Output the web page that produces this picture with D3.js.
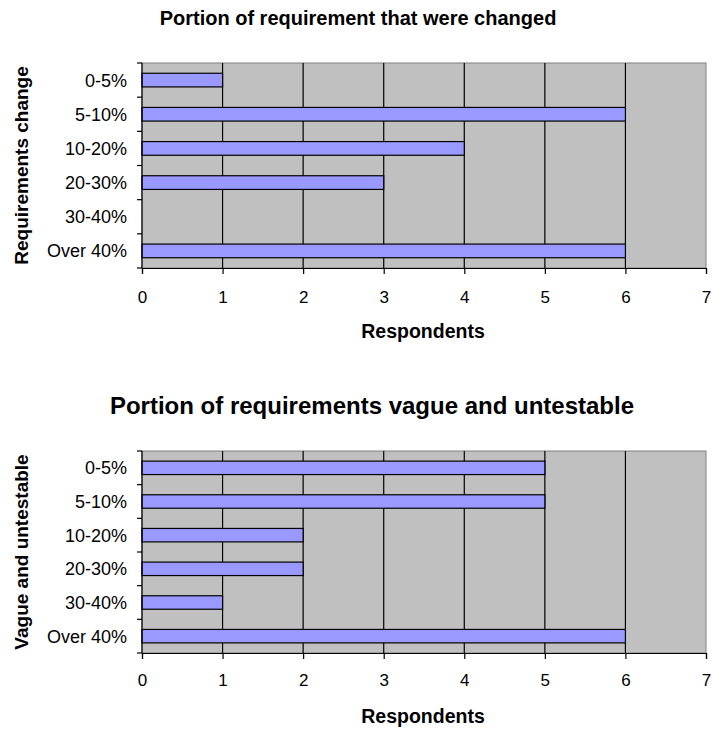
<!DOCTYPE html>
<html>
<head>
<meta charset="utf-8">
<script src="https://cdn.jsdelivr.net/npm/d3@7"></script>
<style>
  body { margin: 0; background: #fff; }
  svg { display: block; font-family: "Liberation Sans", Arial, sans-serif; }
</style>
</head>
<body>
<svg id="chart" width="713" height="731"></svg>
<script>
// Survey responses: number of respondents per requirement-share bucket
const categories = ["0-5%", "5-10%", "10-20%", "20-30%", "30-40%", "Over 40%"];
const changedValues = [1, 6, 4, 3, 0, 6];
const vagueValues = [5, 5, 2, 2, 1, 6];
const xTicks = [0, 1, 2, 3, 4, 5, 6, 7];

const svg = d3.select("#chart");
const FONT = "Liberation Sans, Arial, sans-serif";

function drawPanel(cfg) {
  const { values, top, bottom, title, titleY, titleSize, titleX, yTitle, xTitleY, tickLabelY } = cfg;
  const left = 142, right = 706;
  const x = d3.scaleLinear().domain([0, 7]).range([left, right]);
  const y = d3.scaleBand().domain(categories).range([top, bottom]).paddingInner(0.6).paddingOuter(0.3);
  const band = d3.scaleBand().domain(categories).range([top, bottom]);
  const g = svg.append("g");

  // plot area
  g.append("rect").attr("x", left).attr("y", top).attr("width", right - left).attr("height", bottom - top)
    .attr("fill", "#c0c0c0").attr("stroke", "#808080").attr("stroke-width", 1);

  // vertical gridlines
  g.selectAll("line.grid").data(xTicks.slice(1, -1)).join("line")
    .attr("x1", d => x(d)).attr("x2", d => x(d)).attr("y1", top).attr("y2", bottom)
    .attr("stroke", "#000").attr("stroke-width", 1.2);

  // bars
  g.selectAll("rect.bar").data(values.map((v, i) => ({ c: categories[i], v })).filter(d => d.v > 0)).join("rect")
    .attr("x", x(0)).attr("y", d => y(d.c)).attr("width", d => x(d.v) - x(0)).attr("height", y.bandwidth())
    .attr("fill", "#9999ff").attr("stroke", "#000").attr("stroke-width", 1.2);

  // x axis
  const xAxis = g.append("g").attr("transform", `translate(0,${bottom})`)
    .call(d3.axisBottom(x).tickValues(xTicks).tickSize(6).tickFormat(d3.format("d")));
  xAxis.select(".domain").attr("stroke", "#000").attr("stroke-width", 1.2);
  xAxis.selectAll(".tick line").attr("stroke", "#000").attr("stroke-width", 1.2);
  xAxis.selectAll(".tick text")
    .attr("y", tickLabelY - bottom).attr("dy", null)
    .attr("font-size", 17).attr("fill", "#000").attr("font-family", FONT);

  // y axis: category ticks on band boundaries
  g.append("line").attr("x1", left).attr("x2", left).attr("y1", top).attr("y2", bottom)
    .attr("stroke", "#000").attr("stroke-width", 1.2);
  const bounds = categories.map(c => band(c)).concat([bottom]);
  g.selectAll("line.ytick").data(bounds).join("line")
    .attr("x1", left - 5).attr("x2", left).attr("y1", d => d).attr("y2", d => d)
    .attr("stroke", "#000").attr("stroke-width", 1.2);
  g.selectAll("text.ylab").data(categories).join("text")
    .attr("x", 127).attr("y", d => band(d) + band.bandwidth() / 2).attr("dy", "0.36em")
    .attr("text-anchor", "end").attr("font-size", 18).attr("fill", "#000").text(d => d);

  // titles
  g.append("text").attr("x", titleX).attr("y", titleY).attr("text-anchor", "middle")
    .attr("font-size", titleSize).attr("font-weight", "bold").attr("fill", "#000").text(title);
  g.append("text").attr("x", 423).attr("y", xTitleY).attr("text-anchor", "middle")
    .attr("font-size", 19.5).attr("font-weight", "bold").attr("fill", "#000").text("Respondents");
  g.append("text").attr("transform", `translate(28,${(top + bottom) / 2}) rotate(-90)`)
    .attr("text-anchor", "middle").attr("font-size", 19).attr("font-weight", "bold").attr("fill", "#000").text(yTitle);
}

drawPanel({
  values: changedValues, top: 63, bottom: 268,
  title: "Portion of requirement that were changed", titleX: 358, titleY: 25, titleSize: 20,
  yTitle: "Requirements change", xTitleY: 338, tickLabelY: 303
});
drawPanel({
  values: vagueValues, top: 451, bottom: 653,
  title: "Portion of requirements vague and untestable", titleX: 372, titleY: 414, titleSize: 24,
  yTitle: "Vague and untestable", xTitleY: 723, tickLabelY: 686
});
</script>
</body>
</html>
